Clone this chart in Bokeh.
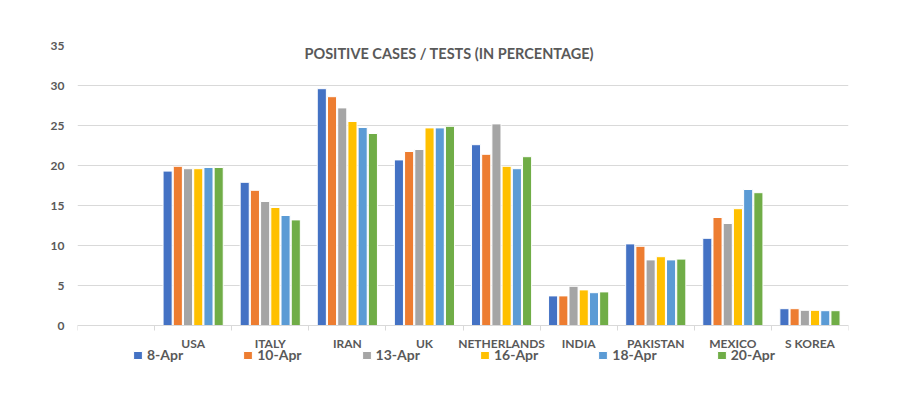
from bokeh.plotting import figure
from bokeh.models import (ColumnDataSource, Range1d, FixedTicker, Legend, LegendItem, Label)
from bokeh.transform import dodge
from bokeh.embed import file_html
from bokeh.resources import INLINE

categories = ["", "USA", "ITALY", "IRAN", "UK", "NETHERLANDS", "INDIA", "PAKISTAN", "MEXICO", "S KOREA"]
countries = categories[1:]
series_labels = ["8-Apr", "10-Apr", "13-Apr", "16-Apr", "18-Apr", "20-Apr"]

apr8 = [19.3, 17.9, 29.6, 20.7, 22.6, 3.7, 10.2, 10.9, 2.1]
apr10 = [19.9, 16.9, 28.6, 21.75, 21.4, 3.7, 9.9, 13.5, 2.1]
apr13 = [19.6, 15.5, 27.2, 22.0, 25.2, 4.9, 8.2, 12.75, 1.9]
apr16 = [19.6, 14.75, 25.5, 24.7, 19.9, 4.45, 8.6, 14.6, 1.9]
apr18 = [19.75, 13.75, 24.75, 24.7, 19.6, 4.1, 8.2, 17.0, 1.85]
apr20 = [19.75, 13.2, 24.0, 24.9, 21.1, 4.2, 8.3, 16.6, 1.85]

colors = ["#4472C4", "#ED7D31", "#A5A5A5", "#FFC000", "#5B9BD5", "#70AD47"]
series_values = [apr8, apr10, apr13, apr16, apr18, apr20]
yticks = [0, 5, 10, 15, 20, 25, 30, 35]

TXT = "#595959"
GRID = "#d9d9d9"
FONT = "Lato"

xc = [categories.index(c) + 0.5 for c in countries]
data = {"x": xc}
for lab, vals in zip(series_labels, series_values):
    data[lab] = vals
src = ColumnDataSource(data)

W, H = 896, 400
TOP, BOTTOM_BORDER = 45, 34
PX_PER_UNIT = 8.0
frame_h = H - TOP - BOTTOM_BORDER
y_lo = 35 - frame_h / PX_PER_UNIT   # extra room below zero for the legend

p = figure(width=W, height=H, output_backend="svg", toolbar_location=None,
           x_range=Range1d(0, len(categories)), y_range=Range1d(y_lo, 35),
           min_border_left=77, min_border_right=W - 848, min_border_top=TOP,
           min_border_bottom=BOTTOM_BORDER)
p.outline_line_color = None
p.background_fill_color = "white"
p.border_fill_color = "white"

pitch = 0.1325
items = []
for j, (lab, col) in enumerate(zip(series_labels, colors)):
    r = p.vbar(x=dodge("x", (j - 2.5) * pitch), top=lab, bottom=0, width=0.118,
               source=src, fill_color=col, line_color="white", line_width=1)
    items.append(LegendItem(label=lab, renderers=[r]))

# x axis, drawn at y = 0
p.xaxis.fixed_location = 0
p.xaxis.ticker = FixedTicker(ticks=[i + 0.5 for i in range(len(categories))],
                             minor_ticks=list(range(len(categories) + 1)))
p.xaxis.major_label_overrides = {i + 0.5: c for i, c in enumerate(categories)}
p.xaxis.axis_line_color = GRID
p.xaxis.major_tick_line_color = None
p.xaxis.major_tick_out = 0
p.xaxis.major_tick_in = 0
p.xaxis.minor_tick_line_color = GRID
p.xaxis.minor_tick_out = 5
p.xaxis.minor_tick_in = 0
p.xaxis.major_label_standoff = 5
p.xaxis.major_label_text_font = FONT
p.xaxis.major_label_text_font_style = "bold"
p.xaxis.major_label_text_font_size = "12px"
p.xaxis.major_label_text_color = TXT
p.xgrid.visible = False

# y axis
p.yaxis.ticker = FixedTicker(ticks=yticks)
p.yaxis.axis_line_color = None
p.yaxis.major_tick_line_color = None
p.yaxis.minor_tick_line_color = None
p.yaxis.major_tick_out = 0
p.yaxis.major_label_standoff = 13
p.yaxis.major_label_text_font = FONT
p.yaxis.major_label_text_font_style = "bold"
p.yaxis.major_label_text_font_size = "12px"
p.yaxis.major_label_text_color = TXT
p.ygrid.grid_line_color = GRID
p.ygrid.grid_line_width = 1

# title inside plot area
title = Label(x=len(categories) / 2, y=34.0, x_units="data", y_units="data",
              text="POSITIVE CASES / TESTS  (IN PERCENTAGE)", text_align="center",
              text_baseline="middle", x_offset=-12, text_font=FONT,
              text_font_style="bold", text_font_size="14.5px", text_color=TXT)
p.add_layout(title)

legend = Legend(items=items, orientation="horizontal", location=(55, 3),
                padding=0, margin=0, spacing=59, glyph_width=11, glyph_height=10,
                label_standoff=4, label_height=14, label_text_font=FONT,
                label_text_font_style="bold", label_text_font_size="14px",
                label_text_color=TXT, background_fill_alpha=0, border_line_alpha=0)
p.add_layout(legend, "center")

open("out.html", "w").write(file_html(p, INLINE))
